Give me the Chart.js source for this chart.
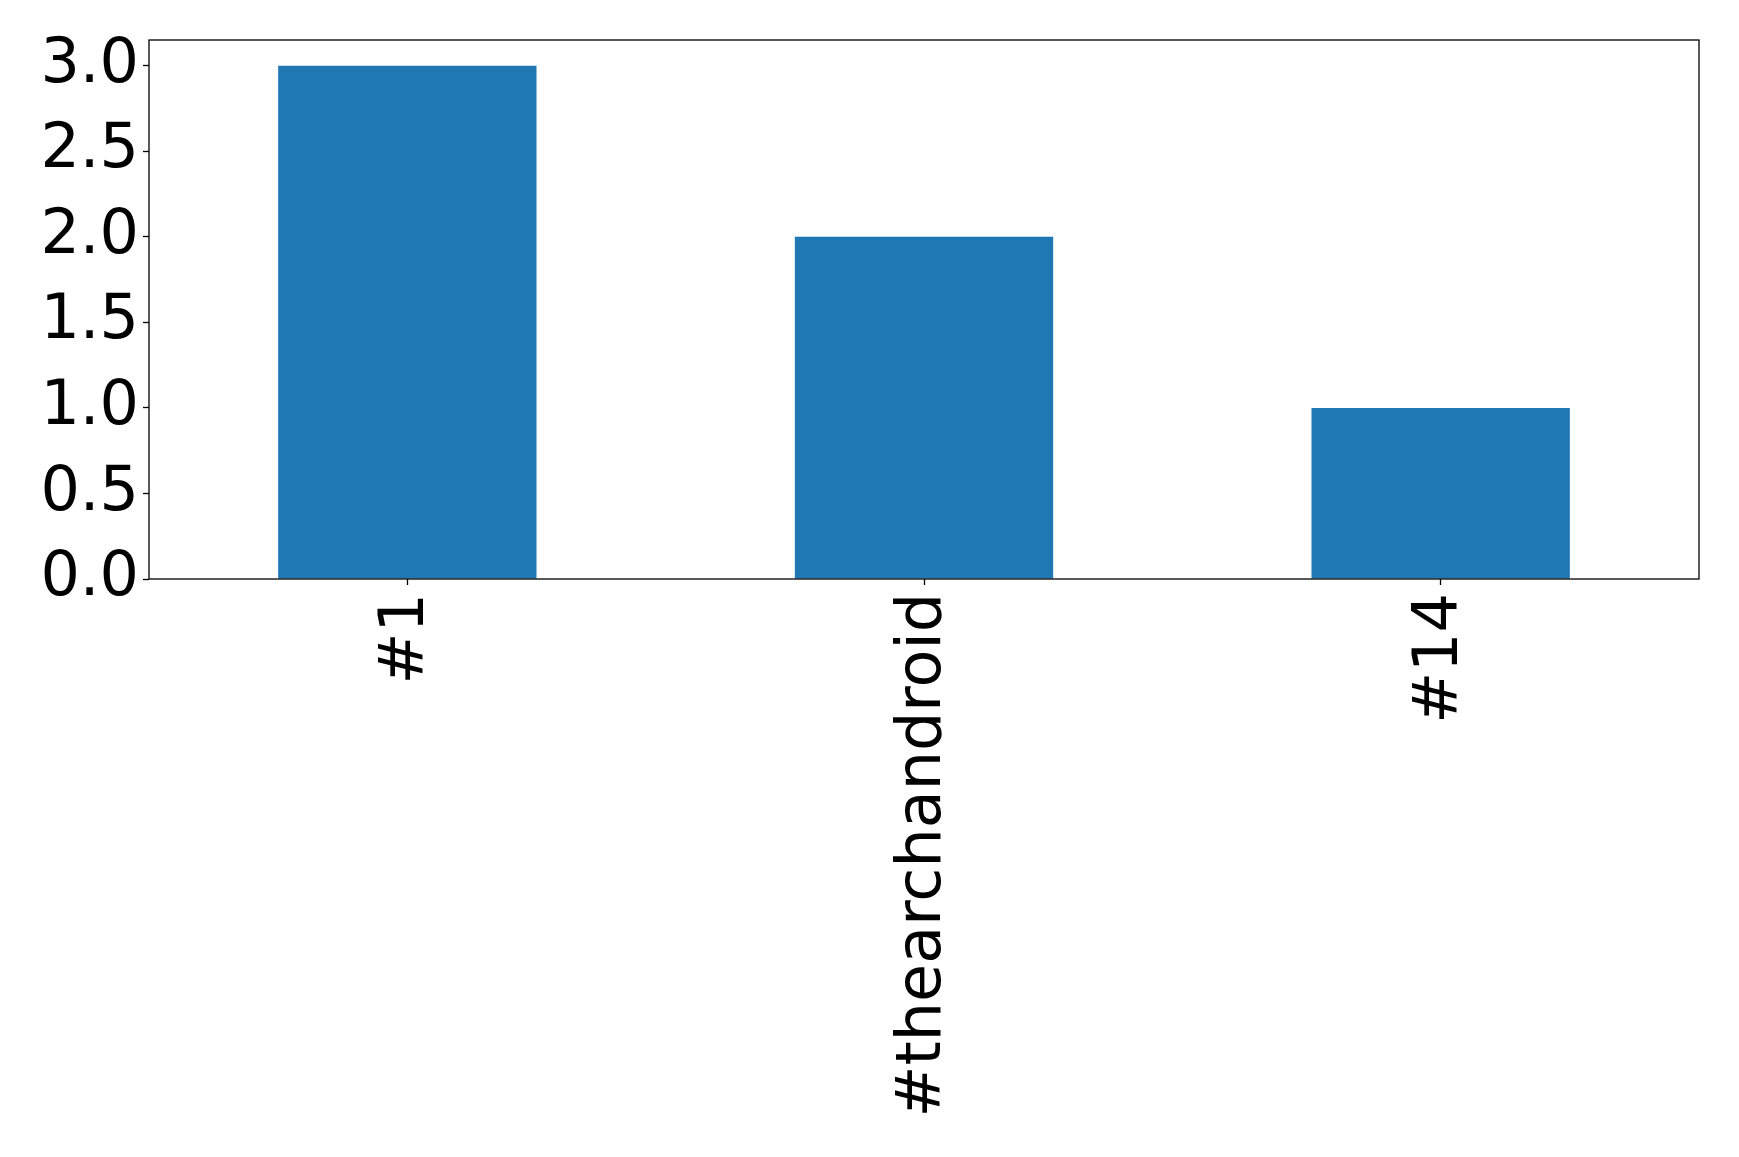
<!DOCTYPE html>
<html>
<head>
<meta charset="utf-8">
<title>Bar chart</title>
<script src="https://cdn.jsdelivr.net/npm/chart.js"></script>
<style>
  body { margin: 0; background: white; }
  #wrap { width: 1739px; height: 1157px; position: relative; }
</style>
</head>
<body>
<div id="wrap"><canvas id="myChart"></canvas></div>
<script>
// data
const categories = ['#1', '#thearchandroid', '#14'];
const counts = [3, 2, 1];
const yTicks = [0, 0.5, 1.0, 1.5, 2.0, 2.5, 3.0];
const yMax = 3.15;

const font = { family: 'DejaVu Sans', size: 62 };

// draws the box round the plot area, like the matplotlib spines
const frame = {
  id: 'frame',
  afterDraw(chart) {
    const a = chart.chartArea;
    const ctx = chart.ctx;
    ctx.save();
    ctx.strokeStyle = '#000';
    ctx.lineWidth = 1.3;
    ctx.strokeRect(a.left, a.top, a.right - a.left, a.bottom - a.top);
    ctx.restore();
  }
};

new Chart(document.getElementById('myChart'), {
  type: 'bar',
  data: {
    labels: categories,
    datasets: [{
      data: counts,
      backgroundColor: '#1f77b4',
      barPercentage: 0.5,
      categoryPercentage: 1.0
    }]
  },
  options: {
    responsive: true,
    maintainAspectRatio: false,
    animation: false,
    layout: { padding: { top: 40, right: 40, left: 0, bottom: 0 } },
    plugins: { legend: { display: false }, tooltip: { enabled: false } },
    scales: {
      x: {
        grid: { offset: false, drawOnChartArea: false, tickLength: 6, tickColor: '#000', tickWidth: 1.3 },
        border: { display: false },
        ticks: { color: '#000', font: font, minRotation: 90, maxRotation: 90, padding: 8 },
        afterFit(axis) { axis.height = 578; axis.paddingLeft = 0; axis.paddingRight = 0; }
      },
      y: {
        min: 0,
        max: yMax,
        grid: { drawOnChartArea: false, tickLength: 6, tickColor: '#000', tickWidth: 1.3 },
        border: { display: false },
        ticks: {
          color: '#000', font: font, padding: 4,
          callback: v => Number(v).toFixed(1)
        },
        afterBuildTicks(axis) { axis.ticks = yTicks.map(v => ({ value: v })); },
        afterFit(axis) { axis.width = 149; axis.paddingTop = 0; axis.paddingBottom = 0; }
      }
    }
  },
  plugins: [frame]
});
</script>
</body>
</html>
